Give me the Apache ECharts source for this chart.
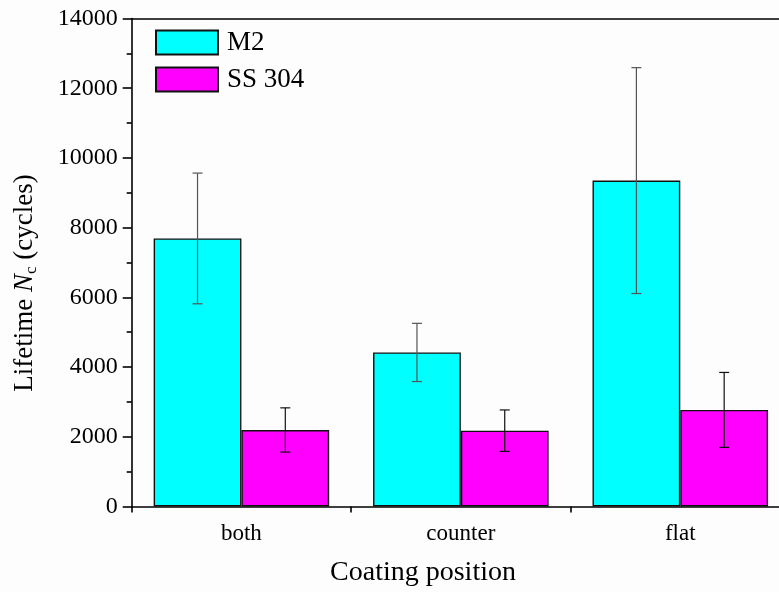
<!DOCTYPE html>
<html>
<head>
<meta charset="utf-8">
<script src="https://cdn.jsdelivr.net/npm/echarts@6/dist/echarts.min.js"></script>
<style>
html,body{margin:0;padding:0;background:#fdfdfd;overflow:hidden;}
#c{width:790px;height:592px;}
</style>
</head>
<body>
<div id="c"></div>
<script>
var categories = ['both', 'counter', 'flat'];
var m2Values = [7690, 4420, 9350];
var m2Errors = [1875, 835, 3240];
var ssValues = [2195, 2175, 2771];
var ssErrors = [635, 595, 1075];
var seriesNames = ['M2', 'SS 304'];

var FONT = '"Liberation Serif", "Times New Roman", serif';

function errorSeries(values, errors, sign, color) {
  var data = values.map(function (v, i) { return [i, v - errors[i], v + errors[i]]; });
  return {
    type: 'custom',
    xAxisIndex: 0,
    z: 5,
    silent: true,
    data: data,
    renderItem: function (params, api) {
      var idx = api.value(0);
      var lo = api.coord([idx, api.value(1)]);
      var hi = api.coord([idx, api.value(2)]);
      var band = api.size([1, 0])[0];
      var x = lo[0] + sign * band * 0.2;
      var cap = 5;
      var style = { stroke: color, lineWidth: 1.2 };
      return {
        type: 'group',
        children: [
          { type: 'line', shape: { x1: x, y1: lo[1], x2: x, y2: hi[1] }, style: style },
          { type: 'line', shape: { x1: x - cap, y1: hi[1], x2: x + cap, y2: hi[1] }, style: style },
          { type: 'line', shape: { x1: x - cap, y1: lo[1], x2: x + cap, y2: lo[1] }, style: style }
        ]
      };
    }
  };
}

var chart = echarts.init(document.getElementById('c'));
chart.setOption({
  backgroundColor: '#fdfdfd',
  animation: false,
  grid: { left: 131.7, top: 18.5, bottom: 85.5, right: 0 },
  legend: {
    left: 155, top: 29, padding: 0,
    orient: 'vertical',
    itemWidth: 62, itemHeight: 24, itemGap: 10,
    icon: 'rect',
    textStyle: { fontFamily: FONT, fontSize: 27, color: '#000', padding: [0, 0, 0, 4] },
    data: seriesNames
  },
  xAxis: [
    {
      type: 'category', data: categories, position: 'bottom',
      axisLine: { lineStyle: { color: '#000', width: 1.6 } },
      axisTick: { alignWithLabel: true, length: 9, lineStyle: { color: '#000', width: 1.6 } },
      axisLabel: { fontFamily: FONT, fontSize: 23, color: '#000', margin: 16 }
    },
    {
      type: 'category', data: categories, position: 'bottom',
      axisLine: { show: false },
      axisTick: { show: true, length: 6, lineStyle: { color: '#000', width: 1.6 } },
      axisLabel: { show: false }
    },
    {
      type: 'category', data: categories, position: 'top',
      axisLine: { lineStyle: { color: '#000', width: 1.6 } },
      axisTick: { show: false },
      axisLabel: { show: false }
    }
  ],
  yAxis: {
    type: 'value', min: 0, max: 14000, interval: 2000,
    axisLine: { show: true, lineStyle: { color: '#000', width: 1.6 } },
    axisTick: { show: true, length: 9, lineStyle: { color: '#000', width: 1.6 } },
    minorTick: { show: true, splitNumber: 2, length: 5, lineStyle: { color: '#000', width: 1.6 } },
    splitLine: { show: false },
    axisLabel: { fontFamily: FONT, fontSize: 24, color: '#000', margin: 14, formatter: function (v) { return String(v); } }
  },
  series: [
    {
      name: seriesNames[0], type: 'bar', xAxisIndex: 0, data: m2Values,
      barGap: '0%', barCategoryGap: '20%',
      itemStyle: { color: '#00ffff', borderColor: '#111', borderWidth: 1.4 }
    },
    {
      name: seriesNames[1], type: 'bar', xAxisIndex: 0, data: ssValues,
      barGap: '0%', barCategoryGap: '20%',
      itemStyle: { color: '#ff00ff', borderColor: '#111', borderWidth: 1.4 }
    },
    errorSeries(m2Values, m2Errors, -1, '#555'),
    errorSeries(ssValues, ssErrors, 1, '#111')
  ],
  graphic: [
    {
      type: 'text', x: 423, y: 573,
      style: { text: 'Coating position', font: '28px ' + FONT, fill: '#000', align: 'center', verticalAlign: 'middle' }
    },
    {
      type: 'text', x: 25, y: 283, rotation: Math.PI / 2,
      style: {
        text: '{a|Lifetime }{i|N}{s|c}{a| (cycles)}',
        align: 'center', verticalAlign: 'middle',
        rich: {
          a: { fontFamily: FONT, fontSize: 27, color: '#000' },
          i: { fontFamily: FONT, fontSize: 27, fontStyle: 'italic', color: '#000' },
          s: { fontFamily: FONT, fontSize: 17, color: '#000', verticalAlign: 'bottom', padding: [14, 0, 0, 0] }
        }
      }
    }
  ]
});
</script>
</body>
</html>
